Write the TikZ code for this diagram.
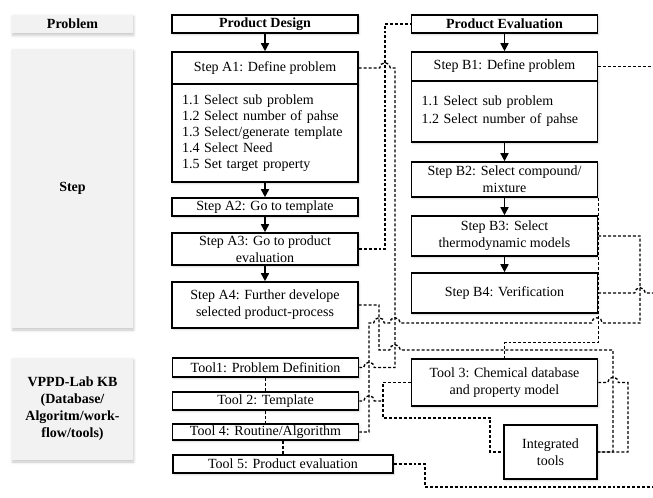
\documentclass[tikz,border=0pt]{standalone}
\usepackage{fontspec}
\setmainfont{Liberation Serif}
\usetikzlibrary{arrows.meta,shadows.blur}

\begin{document}
\begin{tikzpicture}[x=0.75pt, y=-0.75pt,
  font=\fontsize{10.5}{12.7}\selectfont,
  lane/.style={rectangle, fill=black!5, align=center, minimum width=90.75pt,
               font=\fontsize{10.5}{12.7}\selectfont\bfseries,
               blur shadow={shadow xshift=0.5pt, shadow yshift=-1.5pt,
                            shadow opacity=22, shadow blur radius=2pt}},
  box/.style={rectangle, draw, line width=1.2pt, fill=white, align=center,
              inner sep=1pt, minimum width=139.5pt,
              blur shadow={shadow xshift=0.8pt, shadow yshift=-1pt,
                           shadow opacity=18, shadow blur radius=1.5pt}},
  head/.style={box, minimum height=13.5pt,
               font=\fontsize{10.5}{12.7}\selectfont\bfseries},
  list/.style={box, align=left, text width=124.5pt, inner xsep=7.5pt},
  arr/.style={-{Triangle[width=6pt,length=6pt]}, line width=1.2pt},
  link/.style={line width=1pt, dash pattern=on 2.2pt off 1.5pt}
]
\useasboundingbox (0,0) rectangle (653,497);

% row labels
\node[lane, minimum height=13.5pt]  (problem) at (72.5,24)    {Problem};
\node[lane, minimum height=209.25pt] (step)   at (72.5,188.5) {Step};
\node[lane, minimum height=76.5pt]  (kb)      at (72.5,409)
     {VPPD-Lab KB\\(Database/\\Algoritm/work-\\flow/tools)};

% product design column
\node[head] (pd) at (265,24) {Product Design};
\node[box, minimum height=24pt] (a1) at (265,68) {Step A1: Define problem};
\node[list, minimum height=73.5pt, font=\fontsize{10.5}{11.9}\selectfont] (a1list) at (265,133)
     {1.1 Select sub problem\\1.2 Select number of pahse\\1.3 Select/generate template\\1.4 Select Need\\1.5 Set target property};
\node[box, minimum height=13.5pt] (a2) at (265,207) {Step A2: Go to template};
\node[box, minimum height=24pt]   (a3) at (265,249) {Step A3: Go to product\\evaluation};
\node[box, minimum height=34.5pt] (a4) at (265,305) {Step A4: Further develope\\selected product-process};

% product evaluation column
\node[head] (pe) at (504.5,24) {Product Evaluation};
\node[box, minimum height=21.75pt] (b1) at (504.5,66.5) {Step B1: Define problem};
\node[list, minimum height=45.75pt, font=\fontsize{10.5}{13.5}\selectfont] (b1list) at (504.5,111.5)
     {1.1 Select sub problem\\1.2 Select number of pahse};
\node[box, minimum height=26.25pt] (b2) at (504.5,179.5) {Step B2: Select compound/\\mixture};
\node[box, minimum height=30pt]    (b3) at (504.5,236)   {Step B3: Select\\thermodynamic models};
\node[box, minimum height=30pt]    (b4) at (504.5,293)   {Step B4: Verification};

% knowledge base tools
\node[box, minimum height=14.25pt] (t1) at (265.5,367.5) {Tool1: Problem Definition};
\node[box, minimum height=13.5pt]  (t2) at (265.5,401)   {Tool 2: Template};
\node[box, minimum height=12pt]    (t4) at (265.5,432)   {Tool 4: Routine/Algorithm};
\node[box, minimum width=165pt, minimum height=13.5pt] (t5) at (283,464) {Tool 5: Product evaluation};
\node[box, minimum height=35.25pt] (t3) at (504.5,382.5) {Tool 3: Chemical database\\and property model};
\node[box, minimum width=69.75pt, minimum height=40.5pt] (integ) at (550.5,452) {Integrated\\tools};

\coordinate (exitB1) at (653,66.5);
\coordinate (exitB4) at (653,293);
\coordinate (exitT5) at (653,487);

% work-flow
\draw[arr] (pd) -- (a1);
\draw[arr] (a1list) -- (a2);
\draw[arr] (a2) -- (a3);
\draw[arr] (a3) -- (a4);
\draw[arr] (pe) -- (b1);
\draw[arr] (b1list) -- (b2);
\draw[arr] (b2) -- (b3);
\draw[arr] (b3) -- (b4);

% links to the knowledge base (with hops over crossings)
\draw[link] (a3.east) -- (385,249) |- (pe.west);
\draw[link] (a1.east) -- (379.7,68) arc[start angle=180, end angle=0, radius=4pt]
            -- (395,68) -- (395,367.5) -- (374.3,367.5)
            arc[start angle=0, end angle=180, radius=4pt] -- (t1.east);
\draw[link] (a4.east) -- (379,305) -- (379,350) -- (389.7,350)
            arc[start angle=180, end angle=0, radius=4pt] -- (613,350) |- (integ.east);
\draw[link] (b3.east) -- (640,236) -- (640,323) -- (602.3,323)
            arc[start angle=0, end angle=180, radius=4pt] -- (400.3,323)
            arc[start angle=0, end angle=180, radius=4pt] -- (384.3,323)
            arc[start angle=0, end angle=180, radius=4pt] -- (369,323) |- (t4.east);
\draw[link] (b2.south east) -- ++(0,145) -| (t3.north);
\draw[link] (b1.east) -- (exitB1);
\draw[link] (b4.east) -- (634.7,293) arc[start angle=180, end angle=0, radius=4pt] -- (exitB4);

\draw[link] (t1) -- (t2);
\draw[link] (t2) -- (t4);
\draw[link] (t4.south -| t5.north) -- (t5.north);
\draw[link] (t2.east) -- (363.7,401) arc[start angle=180, end angle=0, radius=4pt] -- (383,401);
\draw[link] (t3.west) -- (383,382.5) -- (383,418) -- (490,418) |- (integ.west);
\draw[link] (t3.east) -- (607.7,382.5) arc[start angle=180, end angle=0, radius=4pt]
            -- (628,382.5) |- (integ.east);
\draw[link] (t5.east) -- (425,464) |- (exitT5);

\end{tikzpicture}
\end{document}
